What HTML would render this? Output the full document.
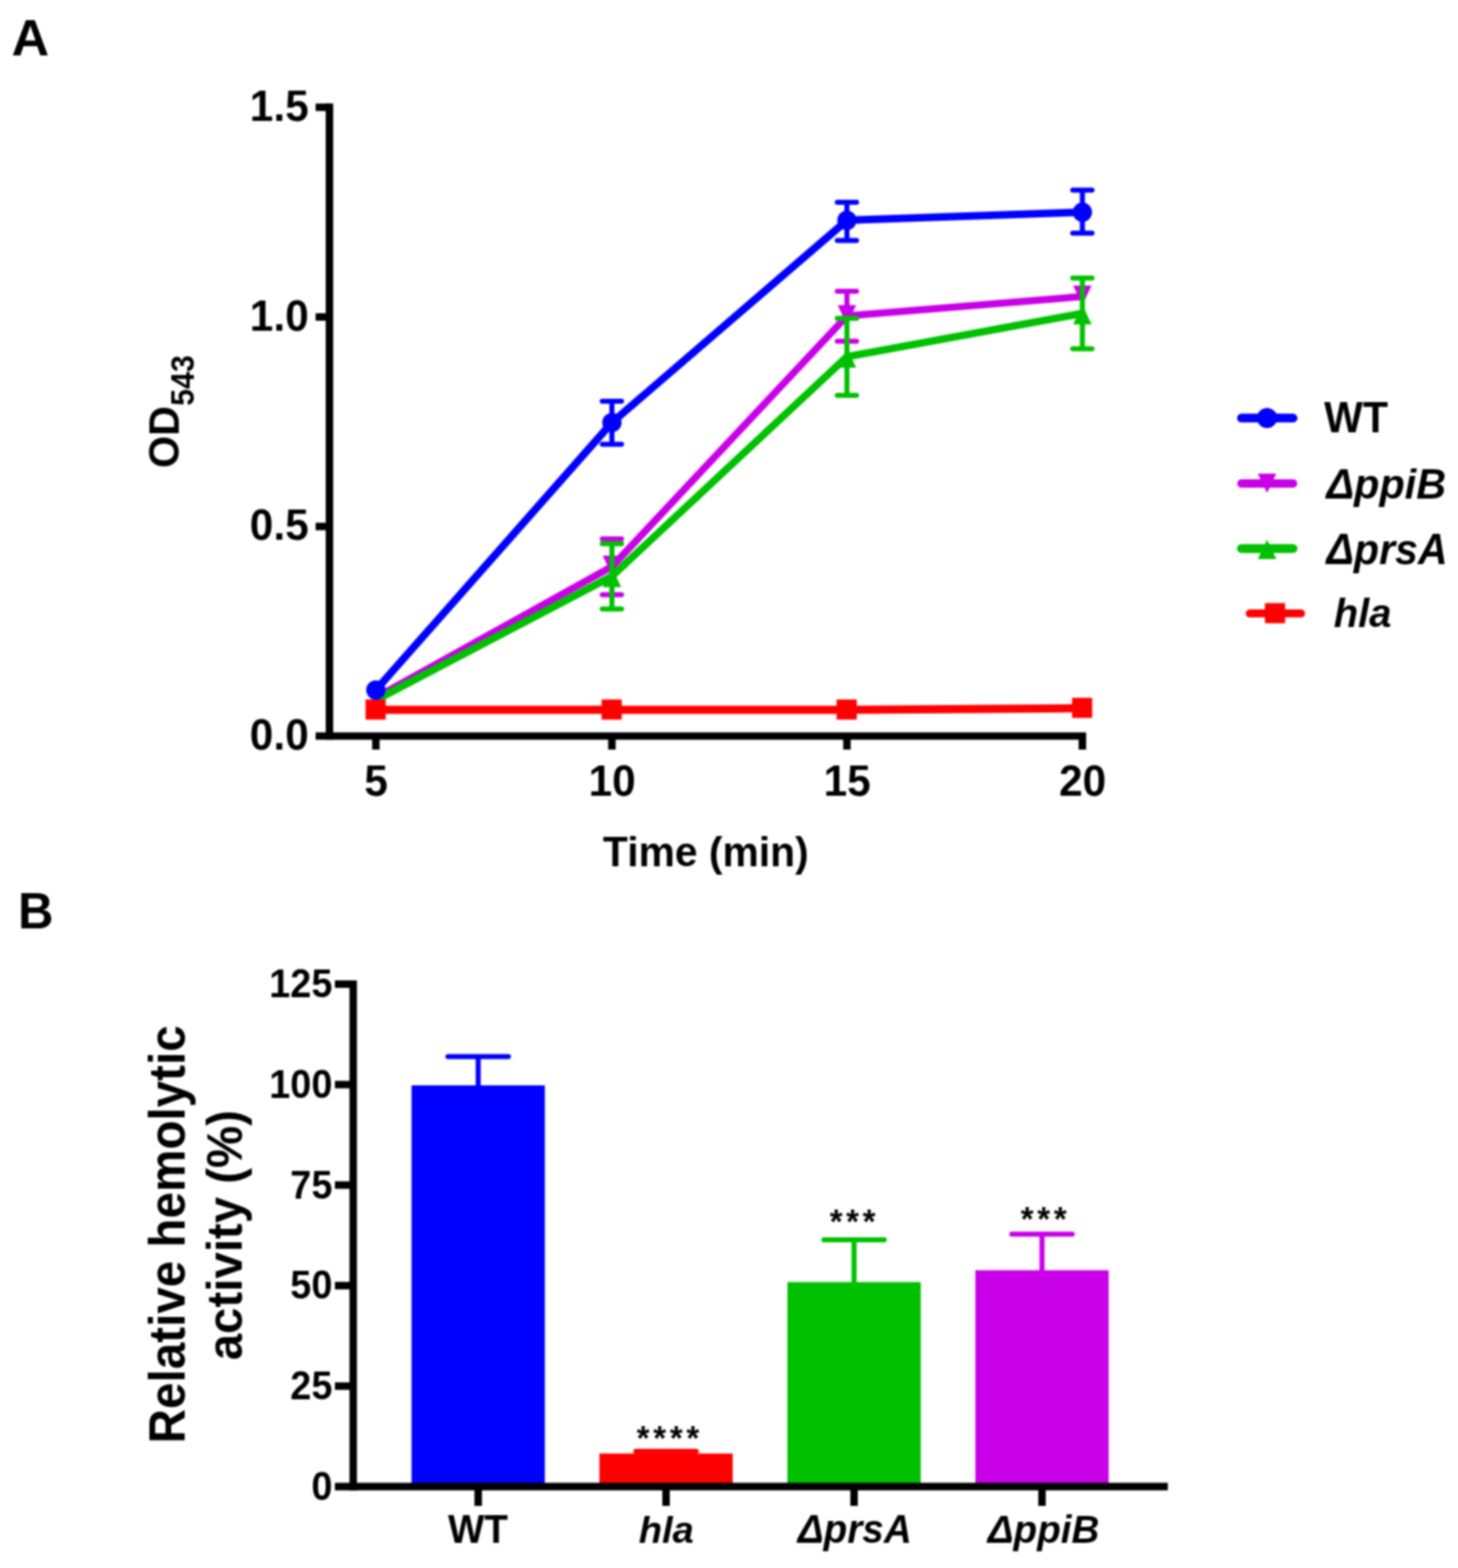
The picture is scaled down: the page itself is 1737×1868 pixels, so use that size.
<!DOCTYPE html>
<html lang="en"><head><meta charset="utf-8"><title>Figure: hemolytic activity</title>
<style>
html,body{margin:0;padding:0;background:#fff;}
body{width:1737px;height:1868px;overflow:hidden;}
svg{display:block;filter:blur(0.8px);}
text{font-family:"Liberation Sans", sans-serif;font-weight:bold;fill:#000;}
.it{font-style:italic;}
.reg{font-weight:normal;}
</style></head><body>
<svg width="1737" height="1868" viewBox="0 0 1737 1868">
<rect width="1737" height="1868" fill="#fff"/>

<g id="panelA">
<text transform="translate(13.80,65.50) scale(1.0250,1)" font-size="60.55" text-anchor="start">A</text>
<g stroke="#000" stroke-width="8.9" fill="none" stroke-linecap="butt">
<path d="M392.5 123.35 V881.35"/>
<path d="M376 876.9 H1293.95"/>
<path d="M376 127.8 H392.5"/>
<path d="M376 377.6 H392.5"/>
<path d="M376 627.2 H392.5"/>
<path d="M447.8 876.9 V893"/>
<path d="M729 876.9 V893"/>
<path d="M1009 876.9 V893"/>
<path d="M1289.5 876.9 V893"/>
</g>
<text transform="translate(367.80,143.80) scale(0.9662,1)" font-size="52.27" text-anchor="end">1.5</text>
<text transform="translate(367.80,393.60) scale(0.9662,1)" font-size="52.27" text-anchor="end">1.0</text>
<text transform="translate(367.80,643.20) scale(0.9662,1)" font-size="52.27" text-anchor="end">0.5</text>
<text transform="translate(367.80,892.90) scale(0.9662,1)" font-size="52.27" text-anchor="end">0.0</text>
<text transform="translate(448.10,948.20) scale(0.9662,1)" font-size="52.27" text-anchor="middle">5</text>
<text transform="translate(729.30,948.20) scale(0.9662,1)" font-size="52.27" text-anchor="middle">10</text>
<text transform="translate(1009.30,948.20) scale(0.9662,1)" font-size="52.27" text-anchor="middle">15</text>
<text transform="translate(1289.80,948.20) scale(0.9662,1)" font-size="52.27" text-anchor="middle">20</text>
<text transform="translate(840.90,1032.20) scale(0.9600,1)" font-size="50.71" text-anchor="middle">Time (min)</text>
<text transform="translate(213.20,557.40) rotate(-90) scale(0.9940,1)" font-size="49.50" text-anchor="start">OD</text>
<text transform="translate(230.70,483.40) rotate(-90) scale(0.9380,1)" font-size="38.50" text-anchor="start">543</text>
<path d="M729 642 V708.4 M717.5 642 H740.5 M717.5 708.4 H740.5" stroke="#c800e8" stroke-width="6" stroke-linecap="round" fill="none"/>
<path d="M1009 347 V406.4 M997.5 347 H1020.5 M997.5 406.4 H1020.5" stroke="#c800e8" stroke-width="6" stroke-linecap="round" fill="none"/>
<path d="M447.8 831 L729 675 L1009 376.4 L1289.5 353.2" stroke="#c800e8" stroke-width="8.5" fill="none" stroke-linejoin="round" stroke-linecap="round"/>
<path d="M718 662 H740 L729 685 Z" fill="#c800e8"/>
<path d="M998 363.4 H1020 L1009 386.4 Z" fill="#c800e8"/>
<path d="M1278.5 340.2 H1300.5 L1289.5 363.2 Z" fill="#c800e8"/>
<path d="M729 647.7 V725.6 M717.5 647.7 H740.5 M717.5 725.6 H740.5" stroke="#00c000" stroke-width="6" stroke-linecap="round" fill="none"/>
<path d="M1009 379.3 V471 M997.5 379.3 H1020.5 M997.5 471 H1020.5" stroke="#00c000" stroke-width="6" stroke-linecap="round" fill="none"/>
<path d="M1289.5 331.2 V415.5 M1278.0 331.2 H1301.0 M1278.0 415.5 H1301.0" stroke="#00c000" stroke-width="6" stroke-linecap="round" fill="none"/>
<path d="M447.8 834 L729 686.5 L1009 425 L1289.5 373.4" stroke="#00c000" stroke-width="8.8" fill="none" stroke-linejoin="round" stroke-linecap="round"/>
<path d="M718 699.5 H740 L729 676.5 Z" fill="#00c000"/>
<path d="M998 438 H1020 L1009 415 Z" fill="#00c000"/>
<path d="M1278.5 386.4 H1300.5 L1289.5 363.4 Z" fill="#00c000"/>
<path d="M447.8 845.7 L729 845.7 L1009 845.7 L1289.5 843.7" stroke="#ff0000" stroke-width="9.7" fill="none" stroke-linejoin="round" stroke-linecap="round"/>
<rect x="435.5" y="833.3000000000001" width="24" height="24" fill="#ff0000"/>
<rect x="716.7" y="833.3000000000001" width="24" height="24" fill="#ff0000"/>
<rect x="996.7" y="833.3000000000001" width="24" height="24" fill="#ff0000"/>
<rect x="1277.2" y="831.3000000000001" width="24" height="24" fill="#ff0000"/>
<path d="M729 478 V529.2 M717.5 478 H740.5 M717.5 529.2 H740.5" stroke="#0000ff" stroke-width="6" stroke-linecap="round" fill="none"/>
<path d="M1009 241 V286.6 M997.5 241 H1020.5 M997.5 286.6 H1020.5" stroke="#0000ff" stroke-width="6" stroke-linecap="round" fill="none"/>
<path d="M1289.5 226.6 V277.8 M1278.0 226.6 H1301.0 M1278.0 277.8 H1301.0" stroke="#0000ff" stroke-width="6" stroke-linecap="round" fill="none"/>
<path d="M447.8 822 L729 503.4 L1009 262.5 L1289.5 252.8" stroke="#0000ff" stroke-width="9.0" fill="none" stroke-linejoin="round" stroke-linecap="round"/>
<circle cx="447.8" cy="822" r="11.5" fill="#0000ff"/>
<circle cx="729" cy="503.4" r="11.5" fill="#0000ff"/>
<circle cx="1009" cy="262.5" r="11.5" fill="#0000ff"/>
<circle cx="1289.5" cy="252.8" r="11.5" fill="#0000ff"/>
<path d="M1479 498.1 H1540.5" stroke="#0000ff" stroke-width="10.5" stroke-linecap="round" fill="none"/>
<circle cx="1509.5" cy="498.1" r="12" fill="#0000ff"/>
<path d="M1479 576 H1540.5" stroke="#c800e8" stroke-width="10" stroke-linecap="round" fill="none"/>
<path d="M1498.5 564.3 H1520.5 L1509.5 587.3 Z" fill="#c800e8"/>
<path d="M1479 653.4 H1540.5" stroke="#00c000" stroke-width="10.5" stroke-linecap="round" fill="none"/>
<path d="M1498.5 666 H1520.5 L1509.5 643 Z" fill="#00c000"/>
<path d="M1489 730.8 H1550" stroke="#ff0000" stroke-width="9.6" stroke-linecap="round" fill="none"/>
<rect x="1507" y="718.5" width="24" height="24" fill="#ff0000"/>
<text transform="translate(1577.60,515.00) scale(0.9450,1)" font-size="51.75" text-anchor="start">WT</text>
<text transform="translate(1580.20,594.00) scale(0.9860,1)" font-size="50.00" text-anchor="start" class="it">ΔppiB</text>
<text transform="translate(1580.20,672.00) scale(0.9460,1)" font-size="51.75" text-anchor="start" class="it">ΔprsA</text>
<text transform="translate(1589.00,747.00) scale(0.9930,1)" font-size="48.00" text-anchor="start" class="it">hla</text>
</g>
<g id="panelB">
<text transform="translate(21.50,1105.50) scale(0.9662,1)" font-size="60.55" text-anchor="start">B</text>
<rect x="490.3" y="1293" width="158.8" height="478.0" fill="#0000ff"/>
<path d="M569.7 1296 V1258.8 M533.7 1258.8 H605.7" stroke="#0000ff" stroke-width="6" stroke-linecap="round" fill="none"/>
<rect x="714.1" y="1731.6" width="158.8" height="39.4" fill="#ff0000"/>
<path d="M793.5 1734.6 V1728.9 M757.5 1728.9 H829.5" stroke="#ff0000" stroke-width="6" stroke-linecap="round" fill="none"/>
<rect x="938.1" y="1527.4" width="158.8" height="243.6" fill="#00c000"/>
<path d="M1017.5 1530.4 V1477 M981.5 1477 H1053.5" stroke="#00c000" stroke-width="6" stroke-linecap="round" fill="none"/>
<rect x="1162.0" y="1513.3" width="158.8" height="257.7" fill="#c800e8"/>
<path d="M1241.4 1516.3 V1470.2 M1205.4 1470.2 H1277.4" stroke="#c800e8" stroke-width="6" stroke-linecap="round" fill="none"/>
<g stroke="#000" stroke-width="8.9" fill="none">
<path d="M420.8 1167.95 V1775.45"/>
<path d="M399 1771 H1391.3"/>
<path d="M399 1651.3 H420.8"/>
<path d="M399 1531.6 H420.8"/>
<path d="M399 1411.8 H420.8"/>
<path d="M399 1292.1 H420.8"/>
<path d="M399 1172.4 H420.8"/>
<path d="M569.7 1771 V1794"/>
<path d="M793.5 1771 V1794"/>
<path d="M1017.5 1771 V1794"/>
<path d="M1241.4 1771 V1794"/>
</g>
<text transform="translate(396.00,1786.90) scale(0.9480,1)" font-size="47.61" text-anchor="end">0</text>
<text transform="translate(396.00,1667.18) scale(0.9480,1)" font-size="47.61" text-anchor="end">25</text>
<text transform="translate(396.00,1547.46) scale(0.9480,1)" font-size="47.61" text-anchor="end">50</text>
<text transform="translate(396.00,1427.74) scale(0.9480,1)" font-size="47.61" text-anchor="end">75</text>
<text transform="translate(396.00,1308.02) scale(0.9480,1)" font-size="47.61" text-anchor="end">100</text>
<text transform="translate(396.00,1188.30) scale(0.9480,1)" font-size="47.61" text-anchor="end">125</text>
<text transform="translate(569.40,1837.60) scale(0.9662,1)" font-size="47.61" text-anchor="middle">WT</text>
<text transform="translate(793.80,1837.60) scale(1.0200,1)" font-size="44.62" text-anchor="middle" class="it">hla</text>
<text transform="translate(1018.30,1837.60) scale(0.9662,1)" font-size="47.61" text-anchor="middle" class="it">ΔprsA</text>
<text transform="translate(1243.20,1837.60) scale(1.0000,1)" font-size="46.00" text-anchor="middle" class="it">ΔppiB</text>
<text transform="translate(758.60,1726.60) scale(0.9500,1)" font-size="41.50" text-anchor="start" letter-spacing="4.6">****</text>
<text transform="translate(988.40,1469.40) scale(0.9500,1)" font-size="41.50" text-anchor="start" letter-spacing="4.6">***</text>
<text transform="translate(1216.10,1466.20) scale(0.9500,1)" font-size="41.50" text-anchor="start" letter-spacing="4.6">***</text>
<text transform="translate(220.00,1470.50) rotate(-90) scale(0.9390,1)" font-size="60.42" text-anchor="middle">Relative hemolytic</text>
<text transform="translate(287.80,1471.50) rotate(-90) scale(0.9440,1)" font-size="59.85" text-anchor="middle">activity (%)</text>
</g>
</svg>
</body></html>
